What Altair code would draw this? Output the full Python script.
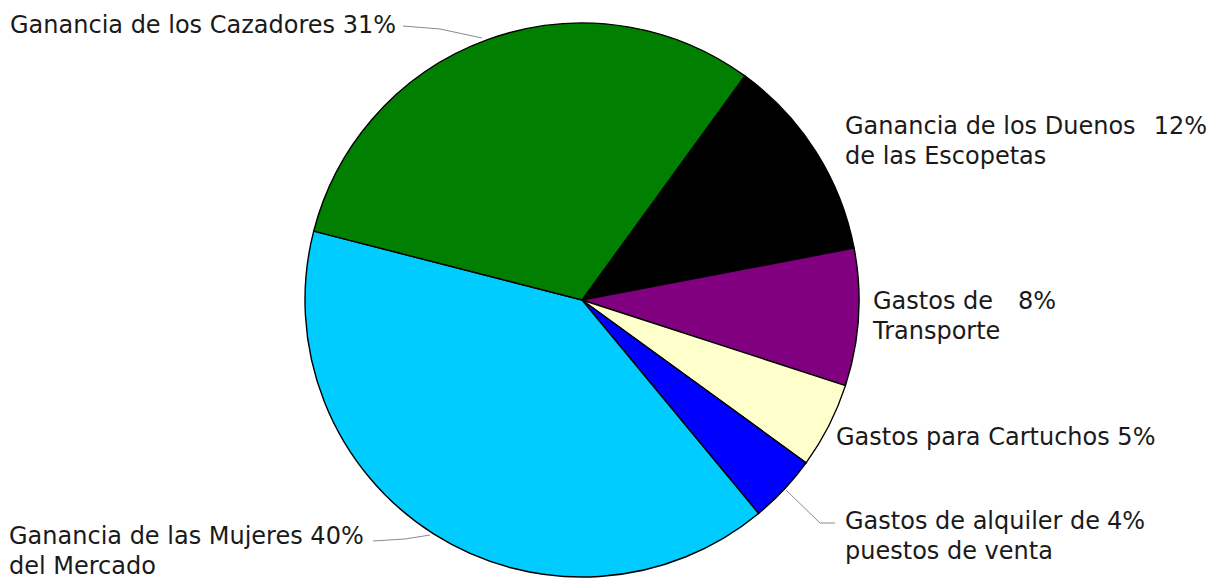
import math
import altair as alt
import pandas as pd

# ---- data ----
categories = [
    "Ganancia de los Duenos de las Escopetas",
    "Gastos de Transporte",
    "Gastos para Cartuchos",
    "Gastos de alquiler de puestos de venta",
    "Ganancia de las Mujeres del Mercado",
    "Ganancia de los Cazadores",
]
values = [12, 8, 5, 4, 40, 31]
colors = ["#000000", "#800080", "#FFFFCC", "#0000FF", "#00CCFF", "#007F00"]

label_lines = [
    ["Ganancia de los Duenos", "de las Escopetas"],
    ["Gastos de", "Transporte"],
    ["Gastos para Cartuchos 5%"],
    ["Gastos de alquiler de", "puestos de venta"],
    ["Ganancia de las Mujeres 40%", "del Mercado"],
    ["Ganancia de los Cazadores 31%"],
]
pct_labels = ["12%", "8%", "", "4%", "", ""]

# ---- layout (page pixels, converted to plot coords) ----
OX, OY = 8, 8
W, H = 1216 - 16, 587 - 16
CX, CY, R = 582 - OX, 300 - OY, 277
START = math.radians(36)
FONT = "DejaVu Sans"
FS = 24
LH = 30

label_xy = [(845, 127), (873, 302), (836, 438), (845, 522), (9, 537), (10, 26)]
pct_xy = [(1207, 127), (1018, 302), None, (1107, 522), None, None]
pct_align = ["right", "left", None, "left", None, None]

df = pd.DataFrame({"cat": categories, "value": values, "order": list(range(len(values)))})

pie = alt.Chart(df).mark_arc(stroke="black", strokeWidth=1.4, radius=R).encode(
    theta=alt.Theta("value:Q", stack=True,
                    scale=alt.Scale(range=[START, START + 2 * math.pi])),
    color=alt.Color("cat:N", scale=alt.Scale(domain=categories, range=colors), legend=None),
    order=alt.Order("order:Q"),
    x=alt.value(CX), y=alt.value(CY),
)

layers = [pie]
rows = []
for i, lines in enumerate(label_lines):
    lx, ly = label_xy[i]
    for j, t in enumerate(lines):
        rows.append({"t": t, "x": lx - OX, "y": ly + j * LH - OY, "align": "left"})
    if pct_xy[i] is not None:
        px, py = pct_xy[i]
        rows.append({"t": pct_labels[i], "x": px - OX, "y": py - OY, "align": pct_align[i]})

tdf = pd.DataFrame(rows)
for al in ["left", "right"]:
    sub = tdf[tdf["align"] == al]
    layers.append(
        alt.Chart(sub).mark_text(align=al, baseline="middle", font=FONT, fontSize=FS, color="#1a1a1a").encode(
            x=alt.X("x:Q", scale=None), y=alt.Y("y:Q", scale=None), text="t:N"
        )
    )

# leader lines (page pixels)
seg_pts = [
    ((403, 26), (440, 29)), ((440, 29), (482, 38)),
    ((373, 541), (405, 539)), ((405, 539), (430, 535)),
    ((786, 490), (820, 523)), ((820, 523), (835, 523)),
]
segs = pd.DataFrame({
    "x": [a[0] - OX for a, b in seg_pts],
    "y": [a[1] - OY for a, b in seg_pts],
    "x2": [b[0] - OX for a, b in seg_pts],
    "y2": [b[1] - OY for a, b in seg_pts],
})
layers.append(
    alt.Chart(segs).mark_rule(color="#8a8a8a", strokeWidth=1).encode(
        x=alt.X("x:Q", scale=None), y=alt.Y("y:Q", scale=None),
        x2="x2:Q", y2="y2:Q",
    )
)

chart = alt.layer(*layers).properties(
    width=W, height=H, padding=0, autosize="none"
).configure_view(strokeWidth=0)
chart.save("out.html", embed_options={"renderer": "svg", "actions": False})
